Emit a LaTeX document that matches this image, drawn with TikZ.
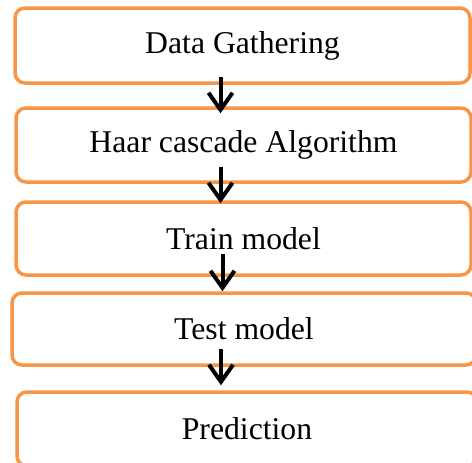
\documentclass[tikz,border=0pt]{standalone}
\usepackage{fontspec}
\setmainfont{Liberation Serif}
\usetikzlibrary{calc,arrows.meta}
\definecolor{boxorange}{RGB}{247,150,70}
\tikzset{
	stagebox/.style={draw=boxorange, line width=3.5pt, rounded corners=10pt, fill=white, inner sep=0pt, font=\fontsize{31.7}{36}\selectfont},
	flow/.style={line width=4pt, -{Straight Barb[length=17pt,width=24pt]}}
}

\begin{document}
\begin{tikzpicture}[x=1pt, y=-1pt]
			%%%%% START %%%%%
			
			\useasboundingbox (0, 0) rectangle (472, 463);
			\clip (0, 0) rectangle (472, 463);
			\fill[white] (0, 0) rectangle (472, 463);
			
			\node[stagebox, minimum width=455pt, minimum height=75pt] (gather) at (242.5, 45.5) {Data Gathering};
			\node[stagebox, minimum width=455pt, minimum height=74pt] (haar) at (243.5, 145) {Haar cascade Algorithm};
			\node[stagebox, minimum width=455pt, minimum height=73pt] (train) at (243.5, 238.5) {Train model};
			\node[stagebox, minimum width=464pt, minimum height=72pt] (test) at (244, 329) {Test model};
			\node[stagebox, minimum width=460pt, minimum height=74pt] (predict) at (247, 429) {Prediction};
			
			\draw[flow] ($(gather.south)+(-22, -8)$) -- ($(gather.south |- haar.north)+(-22, 7)$);
			\draw[flow] ($(haar.south)+(-23, -17)$) -- ($(haar.south |- train.north)+(-23, 3)$);
			\draw[flow] ($(train.south)+(-21, -23)$) -- ($(train.south |- test.north)+(-21, 0)$);
			\draw[flow] ($(test.south)+(-23, -18)$) -- ($(test.south |- predict.north)+(-23, -5)$);
			
			%%%%% END %%%%%
\end{tikzpicture}
\end{document}
